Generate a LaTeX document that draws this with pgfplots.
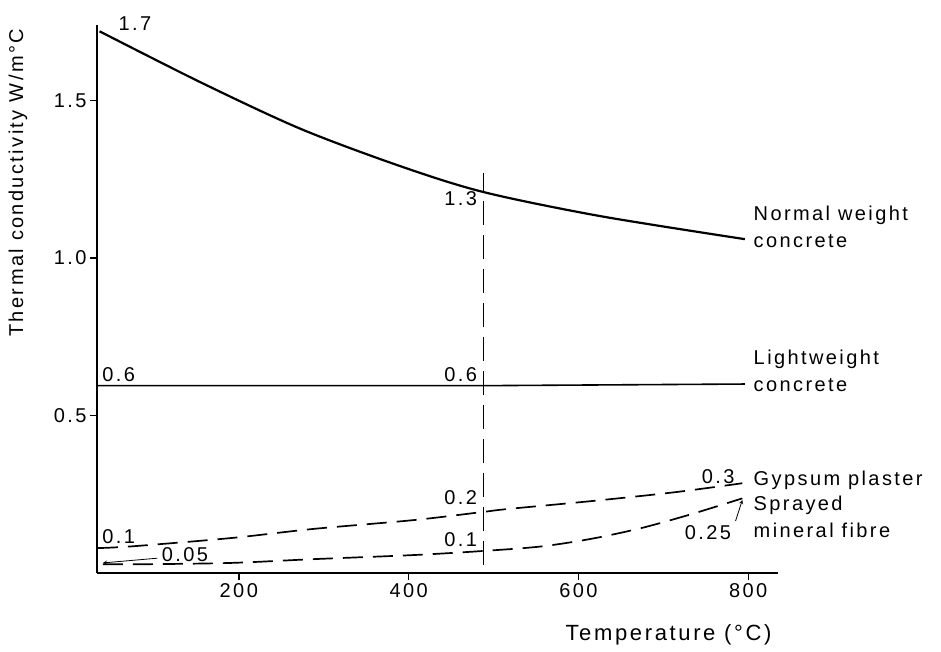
\documentclass[border=0pt]{standalone}
\usepackage{pgfplots}
\pgfplotsset{compat=1.18}
\usepackage{fontspec}
\setmainfont{Liberation Sans}[LetterSpace=12]
\begin{document}
\begin{tikzpicture}
\begin{axis}[
  scale only axis, width=681pt, height=548pt,
  xmin=33, xmax=835, ymin=0, ymax=1.74,
  axis lines=left, axis line style={-, line width=2.2pt},
  tick align=outside, major tick length=7pt,
  tick style={line width=1.4pt, black},
  xtick={200,400,600,800}, ytick={0.5,1,1.5}, yticklabels={0.5,1.0,1.5},
  tick label style={font=\fontsize{20}{24}\selectfont},
  /pgf/number format/assume math mode=true,
  clip=false,
  every axis plot/.append style={black},
]
% Normal weight concrete
\addplot[smooth, line width=2.2pt] coordinates {(36,1.72) (155,1.558) (273,1.41) (391,1.291) (489,1.209) (626,1.133) (796,1.06)};
% Lightweight concrete
\addplot[line width=1.6pt] coordinates {(34,0.595) (500,0.595) (796,0.60)};
% Gypsum plaster
\addplot[smooth, line width=1.7pt, dash pattern=on 20pt off 10pt] coordinates {(34,0.079) (76,0.085) (191,0.111) (288,0.140) (406,0.168) (488,0.194) (516,0.203) (614,0.228) (712,0.256) (793,0.285)};
% Sprayed mineral fibre
\addplot[smooth, line width=1.7pt, dash pattern=on 20pt off 10pt] coordinates {(40,0.028) (93,0.028) (191,0.032) (288,0.044) (406,0.057) (488,0.070) (555,0.084) (614,0.108) (673,0.142) (732,0.186) (793,0.237)};
% vertical reference line
\addplot[line width=1.5pt, dash pattern=on 24pt off 10pt] coordinates {(488,0.025) (488,1.27)};

\begin{scope}[every node/.style={font=\fontsize{20}{27}\selectfont, inner sep=1pt}]
\node[anchor=west] at (axis cs:57,1.745) {1.7};
\node[anchor=east] at (axis cs:482,1.19) {1.3};
\node[anchor=west] at (axis cs:38,0.63) {0.6};
\node[anchor=east] at (axis cs:482,0.63) {0.6};
\node[anchor=east] at (axis cs:482,0.24) {0.2};
\node[anchor=east] at (axis cs:482,0.105) {0.1};
\node[anchor=west] at (axis cs:38,0.115) {0.1};
\node[anchor=west] at (axis cs:108,0.057) {0.05};
\node[anchor=west] at (axis cs:744,0.305) {0.3};
\node[anchor=west] at (axis cs:724,0.127) {0.25};
\node[anchor=west, align=left] at (axis cs:805,1.098) {Normal weight\\concrete};
\node[anchor=west, align=left] at (axis cs:805,0.642) {Lightweight\\concrete};
\node[anchor=west, align=left] at (axis cs:805,0.294) {Gypsum plaster};
\node[anchor=west, align=left] at (axis cs:805,0.177) {Sprayed\\mineral fibre};
\end{scope}
\draw[-stealth, line width=0.8pt] (axis cs:104,0.047) -- (axis cs:40,0.032);
\draw[-stealth, line width=0.8pt] (axis cs:785,0.165) -- (axis cs:793,0.232);

\node[rotate=90, font=\fontsize{20}{24}\selectfont] at (rel axis cs:-0.116,0.712) {Thermal conductivity W/m°C};
\node[anchor=east, font=\fontsize{22}{26}\selectfont] at (rel axis cs:0.9956,-0.113) {Temperature (°C)};
\end{axis}
\path (current axis.south west) ++(-97pt,-79pt) coordinate (bbsw);
\path (current axis.north east) ++(163pt,25pt) coordinate (bbne);
\path (bbsw) rectangle (bbne);
\end{tikzpicture}
\end{document}
